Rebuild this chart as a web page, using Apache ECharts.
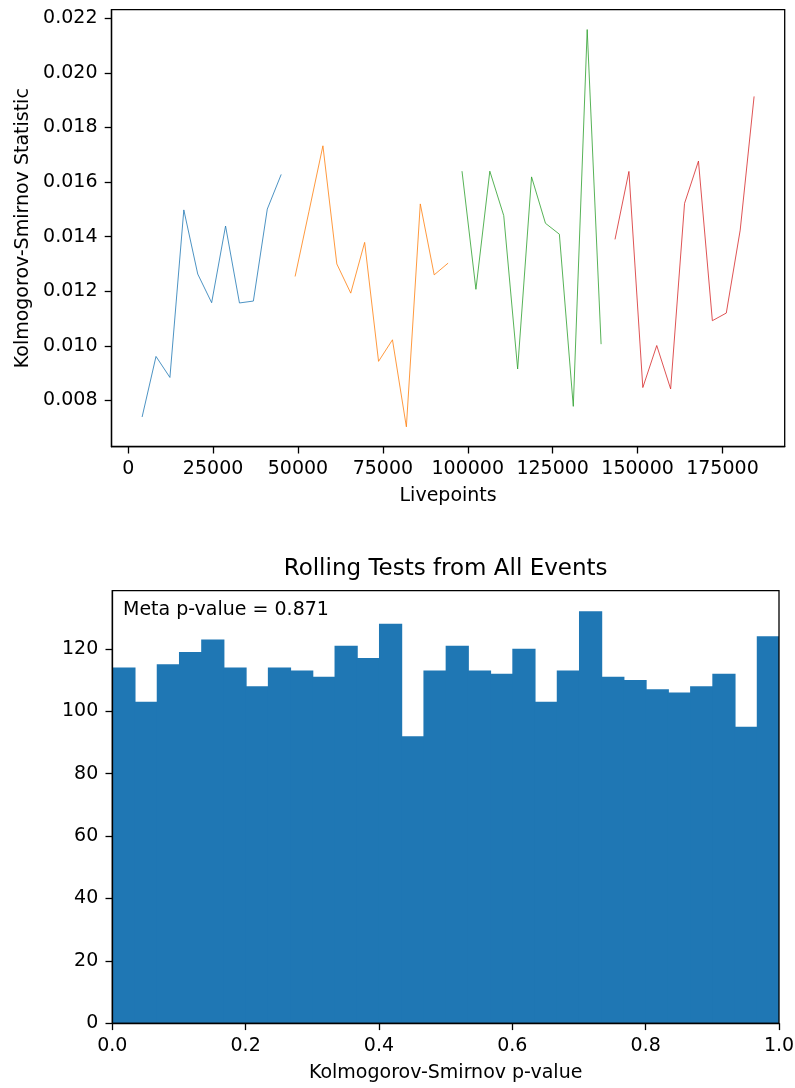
<!DOCTYPE html>
<html><head><meta charset="utf-8">
<script src="https://cdn.jsdelivr.net/npm/echarts@6/dist/echarts.min.js"></script>
<style>html,body{margin:0;padding:0;background:#fff}#c{width:795px;height:1088px}</style>
</head><body><div id="c"></div>
<script>
const FONT = 'DejaVu Sans';
// ---- top chart data (Livepoints vs KS statistic), four segments ----
const blueX = [4096, 8192, 12288, 16384, 20480, 24576, 28672, 32768, 36864, 40960, 45056];
const blueY = [0.00739, 0.00961, 0.00884, 0.01498, 0.01263, 0.01158, 0.01439, 0.01157, 0.01164, 0.01501, 0.01628];
const orangeX = [49152, 53248, 57344, 61440, 65536, 69632, 73728, 77824, 81920, 86016, 90112, 94208];
const orangeY = [0.01254, 0.01493, 0.01733, 0.01300, 0.01193, 0.01379, 0.00943, 0.01022, 0.00703, 0.01520, 0.01260, 0.01303];
const greenX = [98304, 102400, 106496, 110592, 114688, 118784, 122880, 126976, 131072, 135168, 139264];
const greenY = [0.01640, 0.01207, 0.01640, 0.01477, 0.00915, 0.01619, 0.01449, 0.01409, 0.00778, 0.02159, 0.01006];
const redX = [143360, 147456, 151552, 155648, 159744, 163840, 167936, 172032, 176128, 180224, 184320];
const redY = [0.01390, 0.01639, 0.00847, 0.01001, 0.00842, 0.01522, 0.01677, 0.01092, 0.01120, 0.01424, 0.01914];
const segColors = ['#1f77b4', '#ff7f0e', '#2ca02c', '#d62728'];
const topXTicks = [0, 25000, 50000, 75000, 100000, 125000, 150000, 175000];
const topYTicks = [0.008, 0.010, 0.012, 0.014, 0.016, 0.018, 0.020, 0.022];

// ---- bottom chart data (histogram of KS p-values, 30 bins on [0,1]) ----
const histCounts = [114, 103, 115, 119, 123, 114, 108, 114, 113, 111, 121, 117, 128, 92, 113,
                    121, 113, 112, 120, 103, 113, 132, 111, 110, 107, 106, 108, 112, 95, 124];
const histRange = [0, 1];
const botXTicks = [0, 0.2, 0.4, 0.6, 0.8, 1.0];
const botYTicks = [0, 20, 40, 60, 80, 100, 120];
const metaText = 'Meta p-value = 0.871';
const histTitle = 'Rolling Tests from All Events';

const segs = [[blueX, blueY], [orangeX, orangeY], [greenX, greenY], [redX, redY]];
const allX = [].concat(blueX, orangeX, greenX, redX);
const allY = [].concat(blueY, orangeY, greenY, redY);
const xLo = Math.min(...allX), xHi = Math.max(...allX);
const yLo = Math.min(...allY), yHi = Math.max(...allY);
const xm = (xHi - xLo) * 0.05, ym = (yHi - yLo) * 0.05;

const nb = histCounts.length;
const bw = (histRange[1] - histRange[0]) / nb;
const histData = histCounts.map((c, i) => [histRange[0] + i * bw, histRange[0] + (i + 1) * bw, c]);
const histMax = Math.max(...histCounts) * 1.05;

const lab = {color: '#000', fontSize: 19, fontFamily: FONT};
const tick = {show: true, inside: false, length: 6.8, lineStyle: {color: '#000', width: 1.3}};
const axLine = {show: true, onZero: false, lineStyle: {color: '#000', width: 1.3}};

const chart = echarts.init(document.getElementById('c'), null, {renderer: 'canvas'});
chart.setOption({
  animation: false,
  backgroundColor: '#fff',
  textStyle: {fontFamily: FONT},
  grid: [
    {left: 111.5, top: 9.7, width: 673.2, height: 437, show: true, borderColor: '#000', borderWidth: 1.3, backgroundColor: 'transparent', outerBoundsMode: 'none', containLabel: false},
    {left: 112.3, top: 590.7, width: 666.7, height: 432.6, show: true, borderColor: '#000', borderWidth: 1.3, backgroundColor: 'transparent', outerBoundsMode: 'none', containLabel: false}
  ],
  xAxis: [
    {type: 'value', gridIndex: 0, position: 'bottom', min: xLo - xm, max: xHi + xm,
     axisLine: axLine, splitLine: {show: false},
     axisTick: Object.assign({customValues: topXTicks}, tick),
     axisLabel: Object.assign({customValues: topXTicks, margin: 13, formatter: v => String(Math.round(v))}, lab),
     name: 'Livepoints', nameLocation: 'middle', nameGap: 40, nameTextStyle: lab},
    {type: 'value', gridIndex: 1, position: 'bottom', min: histRange[0], max: histRange[1],
     axisLine: axLine, splitLine: {show: false},
     axisTick: Object.assign({customValues: botXTicks}, tick),
     axisLabel: Object.assign({customValues: botXTicks, margin: 13, formatter: v => v.toFixed(1)}, lab),
     name: 'Kolmogorov-Smirnov p-value', nameLocation: 'middle', nameGap: 40, nameTextStyle: lab}
  ],
  yAxis: [
    {type: 'value', gridIndex: 0, position: 'left', min: yLo - ym, max: yHi + ym,
     axisLine: axLine, splitLine: {show: false},
     axisTick: Object.assign({customValues: topYTicks}, tick),
     axisLabel: Object.assign({customValues: topYTicks, margin: 14, formatter: v => v.toFixed(3)}, lab),
     name: 'Kolmogorov-Smirnov Statistic', nameLocation: 'middle', nameGap: 78, nameTextStyle: lab},
    {type: 'value', gridIndex: 1, position: 'left', min: 0, max: histMax,
     axisLine: axLine, splitLine: {show: false},
     axisTick: Object.assign({customValues: botYTicks}, tick),
     axisLabel: Object.assign({customValues: botYTicks, margin: 14, formatter: v => String(Math.round(v))}, lab)}
  ],
  series: segs.map((s, i) => ({
    type: 'line', xAxisIndex: 0, yAxisIndex: 0, symbol: 'none', silent: true,
    data: s[0].map((x, j) => [x, s[1][j]]),
    lineStyle: {color: segColors[i], width: 0.8}
  })).concat([{
    type: 'custom', xAxisIndex: 1, yAxisIndex: 1, z: -1, silent: true,
    data: histData,
    encode: {x: [0, 1], y: 2},
    renderItem: function (params, api) {
      const p0 = api.coord([api.value(0), api.value(2)]);
      const p1 = api.coord([api.value(1), 0]);
      const extra = params.dataIndex < nb - 1 ? 1 : 0;
      return {type: 'rect', shape: {x: p0[0], y: p0[1], width: p1[0] - p0[0] + extra, height: p1[1] - p0[1]},
              style: {fill: '#1f77b4'}};
    }
  }]),
  graphic: [
    {type: 'text', x: 445.6, y: 569.5, style: {text: histTitle, fill: '#000', font: '23px "DejaVu Sans"', textAlign: 'center', textVerticalAlign: 'middle'}},
    {type: 'text', x: 123, y: 610, z: 10, style: {text: metaText, fill: '#000', font: '19px "DejaVu Sans"', textAlign: 'left', textVerticalAlign: 'middle'}}
  ]
});
</script></body></html>
